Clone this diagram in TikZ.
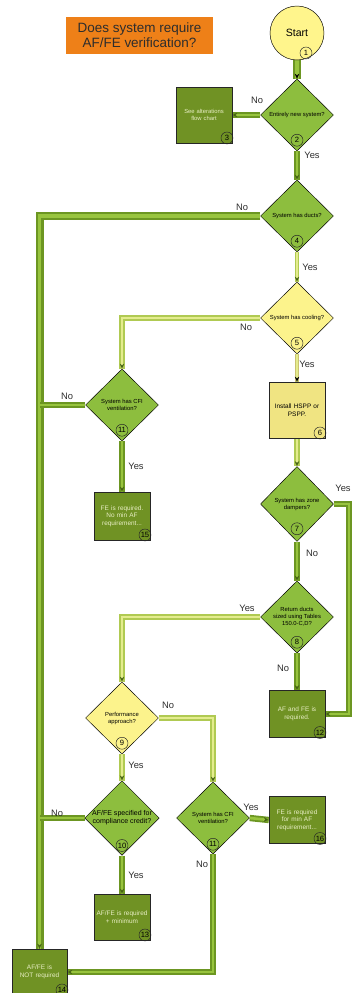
\documentclass[tikz,border=0pt]{standalone}
\usepackage{fontspec}
\setmainfont{Liberation Sans}
\usetikzlibrary{calc,positioning,shapes.geometric,backgrounds,arrows.meta,decorations.markings}

\definecolor{titleOrange}{RGB}{238,128,24}
\definecolor{startYellow}{RGB}{255,245,140}
\definecolor{diaGreen}{RGB}{141,190,62}
\definecolor{diaYellow}{RGB}{252,243,140}
\definecolor{stepYellow}{RGB}{240,228,130}
\definecolor{boxGreen}{RGB}{112,146,36}
\definecolor{boxText}{RGB}{232,238,196}
\definecolor{labelGray}{RGB}{45,45,45}
\definecolor{tubeOuter}{RGB}{108,150,34}
\definecolor{tubeInner}{RGB}{152,196,62}
\definecolor{lightOuter}{RGB}{176,202,82}
\definecolor{lightInner}{RGB}{228,236,142}
\definecolor{tipGreen}{RGB}{70,100,20}

\begin{document}
\begin{tikzpicture}[x=0.3mm,y=-0.3mm]
  \useasboundingbox (0,0) rectangle (354,993);
  \tikzset{
    titleBox/.style={rectangle,fill=titleOrange,text=labelGray,align=center,minimum width=44.1mm,minimum height=11.1mm,font=\fontsize{11.5}{13}\selectfont},
    startNode/.style={circle,draw=black,fill=startYellow,minimum size=16.2mm,inner sep=0pt,font=\fontsize{9}{10}\selectfont},
    decisionGreen/.style={diamond,draw=black,fill=diaGreen,minimum width=21.9mm,minimum height=21.6mm,inner sep=0pt,align=center,font=\fontsize{5}{6}\selectfont},
    decisionYellow/.style={decisionGreen,fill=diaYellow},
    resultBox/.style={rectangle,draw=black!85,fill=boxGreen,text=boxText,minimum width=16.8mm,text width=15.5mm,align=center,inner sep=0pt,font=\fontsize{5.5}{6.5}\selectfont},
    stepBox/.style={resultBox,fill=stepYellow,text=black},
    numTag/.style={circle,draw=black!85,minimum size=3.6mm,inner sep=0pt,font=\fontsize{6.5}{7}\selectfont},
    answer/.style={text=labelGray,inner sep=0pt,font=\fontsize{8}{9}\selectfont},
    % connector styles
    tubeThick/.style={draw=tubeOuter,line width=2.4mm,postaction={draw=tubeInner,line width=1mm}},
    tubeMid/.style={draw=tubeOuter,line width=1.9mm,postaction={draw=tubeInner,line width=0.8mm}},
    tubeThin/.style={draw=lightOuter,line width=1.3mm,postaction={draw=lightInner,line width=0.5mm}},
    tubeLight/.style={draw=lightOuter,line width=1.7mm,postaction={draw=lightInner,line width=0.7mm}},
    tipEnd/.style={postaction={decorate,decoration={markings,mark=at position 1 with {\arrow{Stealth[length=1.5mm,width=1.3mm,line width=0.1pt,color=#1]}}}}},
    tipEnd/.default=tipGreen
  }

  %% Title and start
  \node [titleBox] (title) at (139.5,35.5) {Does system require\\AF/FE verification?};
  \node [startNode] (start) at (297,33) {Start};
  \node [numTag] (n1) at ($(start.center)+(9,20)$) {1};

  %% Right column
  \node [decisionGreen] (d2) at (297,115) {Entirely new system?};
  \node [numTag] (n2) at ($(d2.south)+(0,-11)$) {2};
  \node [resultBox, minimum height=16.8mm, font=\fontsize{5}{6}\selectfont] (b3) at (204,115) {See alterations\\flow chart};
  \node [numTag, above left=0.25mm and 0.25mm of b3.south east] (n3) {3};

  \node [decisionGreen] (d4) at (297,216) {System has ducts?};
  \node [numTag] (n4) at ($(d4.south)+(0,-11)$) {4};

  \node [decisionYellow] (d5) at (297,318) {System has cooling?};
  \node [numTag] (n5) at ($(d5.south)+(0,-11)$) {5};

  \node [stepBox, minimum height=16.8mm] (b6) at (297,410) {Install HSPP or\\PSPP.};
  \node [numTag, above left=0.25mm and 0.25mm of b6.south east] (n6) {6};

  \node [decisionGreen, minimum height=22.5mm] (d7) at (297,504) {System has zone\\dampers?};
  \node [numTag] (n7) at ($(d7.south)+(0,-13)$) {7};

  \node [decisionGreen] (d8) at (297,617) {Return ducts\\sized using Tables\\150.0-C,D?};
  \node [numTag] (n8) at ($(d8.south)+(0,-11)$) {8};

  \node [resultBox, minimum height=14.1mm] (b12) at (297,714) {AF and FE is\\required.};
  \node [numTag, above left=0.25mm and 0.25mm of b12.south east] (n12) {12};

  \node [resultBox, minimum height=14.1mm] (b16) at (297,820) {FE is required\\for min AF\\requirement...};
  \node [numTag, above left=0.25mm and 0.25mm of b16.south east] (n16) {16};

  %% Left and middle columns
  \node [decisionGreen] (d11a) at (122,405) {System has CFI\\ventilation?};
  \node [numTag] (n11a) at ($(d11a.south)+(0,-11)$) {11};

  \node [resultBox, minimum height=14.4mm] (b15) at (122,516) {FE is required.\\No min AF\\requirement...};
  \node [numTag, above left=0.25mm and 0.25mm of b15.south east] (n15) {15};

  \node [decisionYellow] (d9) at (122,718) {Performance\\approach?};
  \node [numTag] (n9) at ($(d9.south)+(0,-11)$) {9};

  \node [decisionGreen, font=\fontsize{6}{7}\selectfont] (d10) at (122,818) {AF/FE specified for\\compliance credit?};
  \node [numTag] (n10) at ($(d10.south)+(0,-10)$) {10};

  \node [decisionGreen] (d11b) at (213,818) {System has CFI\\ventilation?};
  \node [numTag] (n11b) at ($(d11b.south)+(0,-10)$) {11};

  \node [resultBox, minimum height=13.8mm] (b13) at (122,917) {AF/FE is required\\+ minimum};
  \node [numTag, above left=0.25mm and 0.25mm of b13.south east] (n13) {13};

  \node [resultBox, minimum width=16.5mm, minimum height=13.8mm] (b14) at (39.5,972) {AF/FE is\\NOT required};
  \node [numTag, above left=0.25mm and 0.25mm of b14.south east] (n14) {14};

  \coordinate (zoneX) at (349,0);

  %% Connectors
  \begin{scope}[on background layer]
    \draw [tubeThick, tipEnd=black] (start.south) -- (d2.north);
    \draw [tubeMid, tipEnd] (d2.west) -- (b3.east);
    \draw [tubeMid, tipEnd] (d2.south) -- (d4.north);
    \draw [tubeThick, tipEnd] (d4.west) -| (b14.north);
    \draw [tubeThin, tipEnd] (d4.south) -- (d5.north);
    \draw [tubeLight, tipEnd] (d5.west) -| (d11a.north);
    \draw [tubeThin, draw=diaYellow!80!black, tipEnd=black] (d5.south) -- (b6.north);
    \draw [tubeLight, tipEnd] (b6.south) -- (d7.north);
    \draw [tubeMid] (d11a.west) -- (d11a.west -| b14.north);
    \draw [tubeMid, tipEnd] (d11a.south) -- (b15.north);
    \draw [tubeMid, tipEnd] (d7.east) -- (d7.east -| zoneX) |- (b12.east);
    \draw [tubeMid, tipEnd] (d7.south) -- (d8.north);
    \draw [tubeLight, tipEnd] (d8.west) -| (d9.north);
    \draw [tubeMid, tipEnd] (d8.south) -- (b12.north);
    \draw [tubeLight, tipEnd] (d9.east) -| (d11b.north);
    \draw [tubeLight, tipEnd] (d9.south) -- (d10.north);
    \draw [tubeMid] (d10.west) -- (d10.west -| b14.north);
    \draw [tubeMid, tipEnd] (d10.south) -- (b13.north);
    \draw [tubeMid, tipEnd] (d11b.east) -- (b16.west);
    \draw [tubeMid, tipEnd] (d11b.south) |- (b14.east);
  \end{scope}

  %% Yes / No labels
  \node [answer] (no2) at (257,100) {No};
  \node [answer] (yes2) at (312,155) {Yes};
  \node [answer] (no4) at (242,207) {No};
  \node [answer] (yes4) at (310,267) {Yes};
  \node [answer] (no5) at (246,327) {No};
  \node [answer] (yes5) at (307,364) {Yes};
  \node [answer] (no11a) at (67,396) {No};
  \node [answer] (yes11a) at (136,466) {Yes};
  \node [answer] (yes7) at (343,488) {Yes};
  \node [answer] (no7) at (312,553) {No};
  \node [answer] (yes8) at (247,608) {Yes};
  \node [answer] (no8) at (283,668) {No};
  \node [answer] (no9) at (168,705) {No};
  \node [answer] (yes9) at (136,765) {Yes};
  \node [answer] (no10) at (57,813) {No};
  \node [answer] (yes10) at (136,875) {Yes};
  \node [answer] (yes11b) at (251,807) {Yes};
  \node [answer] (no11b) at (202,864) {No};
\end{tikzpicture}
\end{document}
